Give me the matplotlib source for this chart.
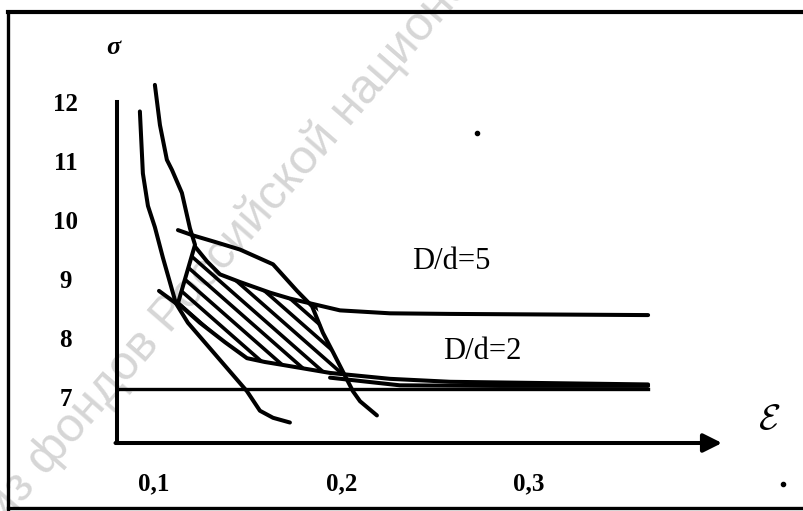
import matplotlib
matplotlib.use('Agg')
import matplotlib.pyplot as plt
from matplotlib.lines import Line2D
from matplotlib.patches import Polygon

plt.rcParams['font.family'] = ['Liberation Serif', 'DejaVu Serif']
plt.rcParams['mathtext.fontset'] = 'cm'

# axis ticks
yticks = [7, 8, 9, 10, 11, 12]
xticks = [0.1, 0.2, 0.3]
xtick_labels = ['0,1', '0,2', '0,3']

# curves (epsilon, sigma)
curve1_eps = [0.0925, 0.0941, 0.0968, 0.1005, 0.1048, 0.1117]
curve1_sig = [11.84, 10.79, 10.24, 9.88, 9.36, 8.59]

lower_eps = [0.1027, 0.1117, 0.1181, 0.1325, 0.1496, 0.1565, 0.1635, 0.1725]
lower_sig = [8.80, 8.59, 8.26, 7.73, 7.10, 6.77, 6.65, 6.57]

curve2_eps = [0.1005, 0.1032, 0.1069, 0.1096, 0.1149, 0.1192, 0.1219, 0.1128]
curve2_sig = [12.29, 11.61, 11.02, 10.85, 10.46, 9.86, 9.58, 8.59]

arc_eps = [0.1128, 0.1208, 0.1325, 0.1459, 0.1635, 0.1763, 0.1843, 0.1901,
           0.1955, 0.2008, 0.2061, 0.2099, 0.2189]
arc_sig = [9.83, 9.74, 9.63, 9.50, 9.25, 8.80, 8.54, 8.09,
           7.76, 7.43, 7.10, 6.93, 6.69]

dd5_eps = [0.1219, 0.1283, 0.1352, 0.1459, 0.1619, 0.1725, 0.1885, 0.1992,
           0.2259, 0.2579, 0.3635]
dd5_sig = [9.55, 9.30, 9.08, 8.95, 8.77, 8.67, 8.55, 8.47, 8.42, 8.41, 8.39]

dd2_eps = [0.1128, 0.1245, 0.1379, 0.1496, 0.1592, 0.1688, 0.1939, 0.2259,
           0.2579, 0.3635]
dd2_sig = [8.59, 8.26, 7.93, 7.66, 7.595, 7.545, 7.41, 7.31, 7.26, 7.215]

dd2b_eps = [0.1939, 0.2312, 0.2845, 0.3635]
dd2b_sig = [7.33, 7.20, 7.19, 7.19]

hline_eps = [0.0803, 0.3635]
hline_sig = [7.13, 7.13]

# hatched zone outline
zone_eps = [0.1219, 0.1283, 0.1352, 0.1459, 0.1619, 0.1725, 0.1870, 0.1901,
            0.1955, 0.2013, 0.1939, 0.1688, 0.1592, 0.1496, 0.1379, 0.1245, 0.1128]
zone_sig = [9.55, 9.30, 9.08, 8.95, 8.77, 8.67, 8.55, 8.09,
            7.76, 7.39, 7.41, 7.545, 7.595, 7.66, 7.93, 8.26, 8.59]
# hatch lines: sigma where each crosses eps=0.1192, common slope
hatch_sig0 = [10.40, 10.16, 9.91, 9.66, 9.41, 9.17, 8.92, 8.67, 8.42]
hatch_slope = -27.9

specks_eps = [0.2723, 0.4355]
specks_sig = [11.48, 5.53]

fig = plt.figure(figsize=(8.04, 5.11), dpi=100)
fig.patch.set_facecolor('white')

# watermark
fig.text(0.006, -0.027, 'из фондов Российской национальной библиотеки',
         fontsize=35, color='#d6d6d6', rotation=49, rotation_mode='anchor',
         ha='left', va='baseline', family=['Liberation Sans', 'DejaVu Sans'], zorder=-5)

ax = fig.add_axes([117/804, 68/511, 605/804, 341/511])
ax.set_facecolor('none')
ax.set_xlim(0.0803, 0.4029)
ax.set_ylim(6.223, 11.86)

lw = 2.9
kw = dict(color='black', lw=lw, solid_capstyle='round', clip_on=False)
ax.plot(curve1_eps, curve1_sig, **kw)
ax.plot(lower_eps, lower_sig, **kw)
ax.plot(curve2_eps, curve2_sig, **kw)
ax.plot(arc_eps, arc_sig, **kw)
ax.plot(dd5_eps, dd5_sig, **kw)
ax.plot(dd2_eps, dd2_sig, **kw)
ax.plot(dd2b_eps, dd2b_sig, **kw)
ax.plot(hline_eps, hline_sig, color='black', lw=2.4, clip_on=False)

zone = Polygon(list(zip(zone_eps, zone_sig)), closed=True, transform=ax.transData)
for s0 in hatch_sig0:
    e = [0.09, 0.25]
    s = [s0 + hatch_slope * (x - 0.1192) for x in e]
    ln, = ax.plot(e, s, color='black', lw=2.6)
    ln.set_clip_path(zone)

ax.plot(specks_eps, specks_sig, 'o', color='black', ms=3, clip_on=False)

# axes
for side in ['top', 'right', 'bottom']:
    ax.spines[side].set_visible(False)
ax.spines['left'].set_linewidth(lw)
ax.annotate('', xy=(0.4029, 6.223), xytext=(0.0803 - 0.0008, 6.223),
            xycoords='data', annotation_clip=False,
            arrowprops=dict(arrowstyle='-|>', lw=lw, color='black',
                            mutation_scale=28, shrinkA=0, shrinkB=0))

ax.set_yticks(yticks)
ax.set_yticklabels([str(t) for t in yticks], fontsize=18, weight='bold')
ax.set_xticks(xticks)
ax.set_xticklabels(xtick_labels, fontsize=18, weight='bold')
ax.tick_params(axis='y', length=0, pad=37)
ax.tick_params(axis='x', length=0, pad=21)
for t in ax.get_yticklabels():
    t.set_ha('center')

ax.text(0.2376, 9.165, 'D/d=5', fontsize=22, ha='left', va='baseline')
ax.text(0.2541, 7.645, 'D/d=2', fontsize=22, ha='left', va='baseline')

fig.text(113/804, 1 - 48/511, 'σ', fontsize=19, style='italic', weight='bold',
         ha='center', va='center')
fig.text(769/804, 1 - 420/511, r'$\mathcal{E}$', fontsize=26, ha='center', va='center')

# scan frame
fig.add_artist(Line2D([8/804, 1], [1 - 12/511] * 2, color='black', lw=3))
fig.add_artist(Line2D([8/804] * 2, [0, 1 - 12/511], color='black', lw=2.4))
fig.add_artist(Line2D([8/804, 1], [3/511] * 2, color='black', lw=2.4))

fig.savefig('out.png', dpi=100)
